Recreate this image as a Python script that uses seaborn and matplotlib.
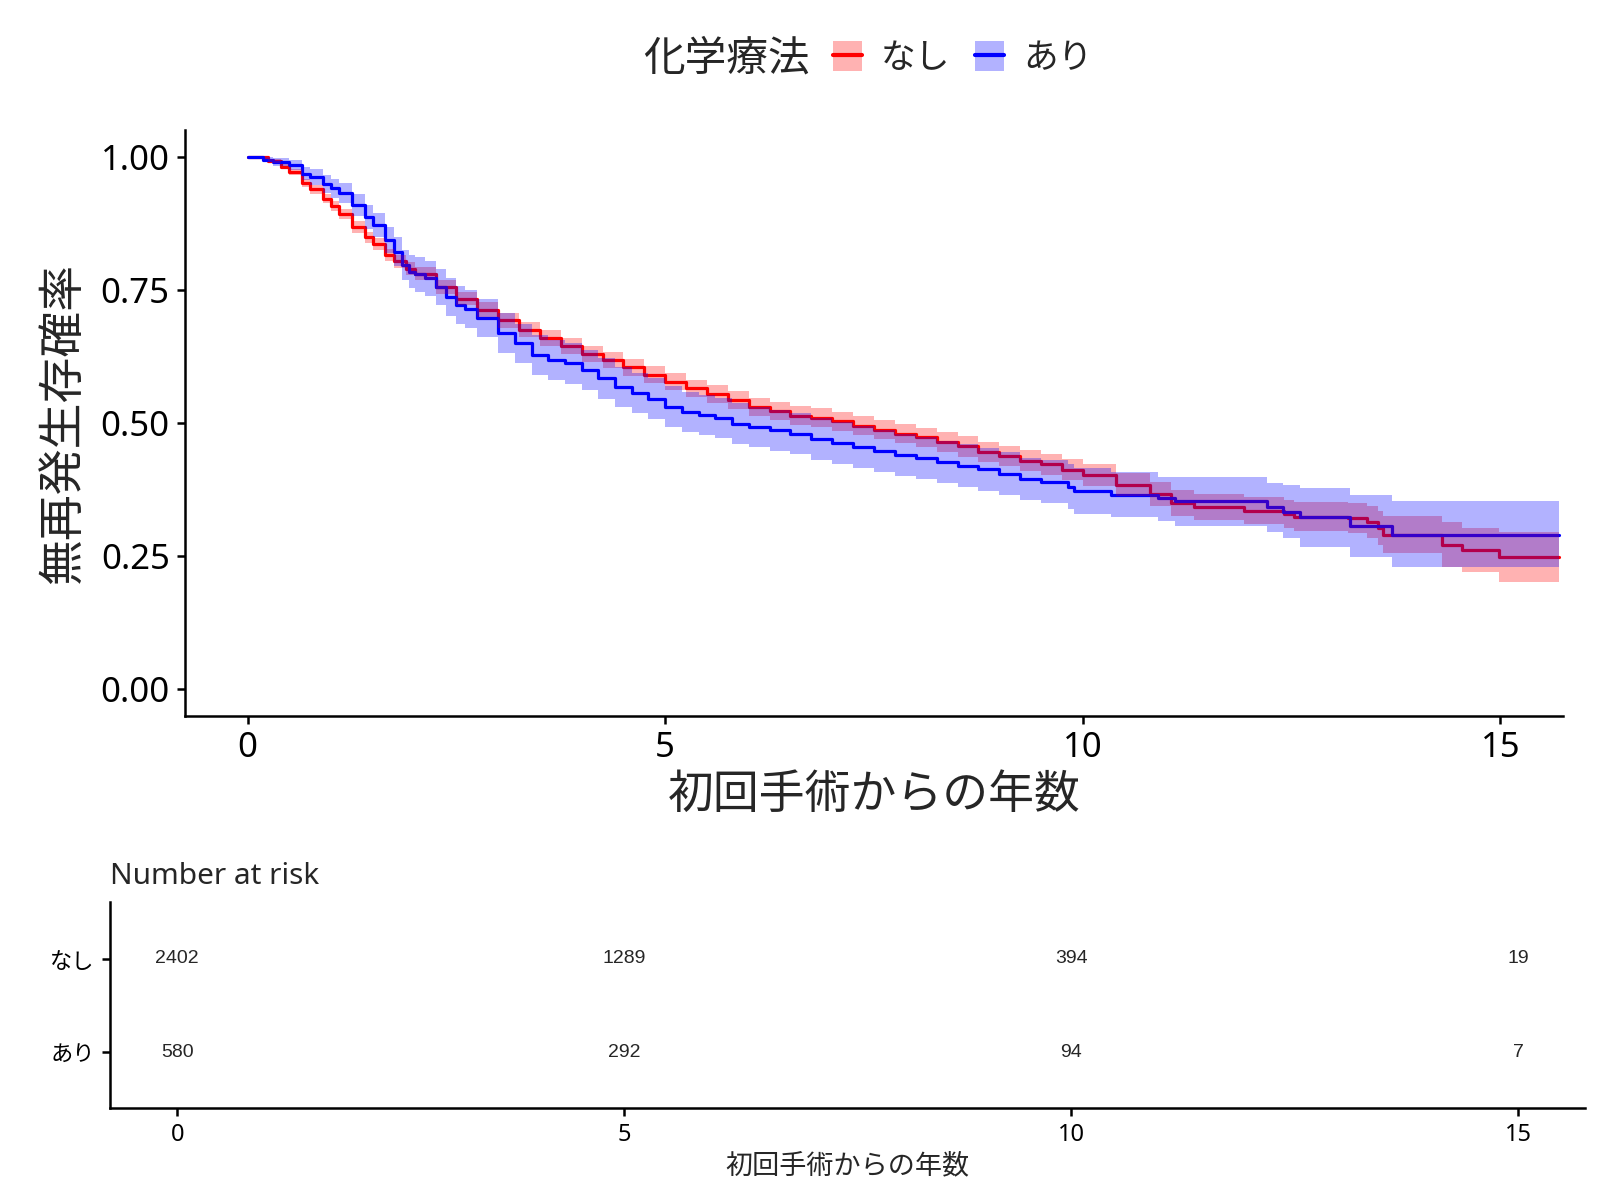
import matplotlib
matplotlib.use("Agg")
import pandas as pd
import matplotlib.pyplot as plt
import seaborn as sns
from matplotlib.patches import Patch
from matplotlib.lines import Line2D

# Kaplan-Meier curve: group "なし" (no chemotherapy)
nashi_time = [0, 0.25, 0.4, 0.5, 0.65, 0.75, 0.9, 1.0, 1.1, 1.25, 1.4, 1.5, 1.65, 1.75, 1.9, 2.0,
              2.25, 2.5, 2.75, 3.0, 3.25, 3.5, 3.75, 4.0, 4.25, 4.5, 4.75, 5.0, 5.25, 5.5, 5.75,
              6.0, 6.25, 6.5, 6.75, 7.0, 7.25, 7.5, 7.75, 8.0, 8.25, 8.5, 8.75, 9.0, 9.25, 9.5, 9.75,
              10.0, 10.4, 10.8, 11.06, 11.33, 11.93, 12.41, 12.53,
              13.18, 13.4, 13.54, 13.6, 14.3, 14.54, 14.98, 15.7]
nashi_surv = [1.0, 0.992, 0.982, 0.972, 0.951, 0.939, 0.922, 0.908, 0.893, 0.869, 0.849, 0.836, 0.816, 0.804, 0.790, 0.781,
              0.756, 0.734, 0.713, 0.693, 0.675, 0.660, 0.645, 0.630, 0.619, 0.605, 0.591, 0.578, 0.565, 0.554, 0.543,
              0.530, 0.522, 0.514, 0.510, 0.503, 0.495, 0.487, 0.480, 0.473, 0.465, 0.456, 0.446, 0.438, 0.429, 0.422, 0.412,
              0.402, 0.384, 0.367, 0.350, 0.342, 0.335, 0.329, 0.324,
              0.321, 0.314, 0.302, 0.290, 0.271, 0.261, 0.249, 0.249]
nashi_lower = [1.0, 0.988, 0.977, 0.966, 0.944, 0.931, 0.913, 0.898, 0.883, 0.858, 0.838, 0.825, 0.804, 0.792, 0.778, 0.769,
               0.743, 0.721, 0.699, 0.679, 0.661, 0.645, 0.630, 0.615, 0.604, 0.589, 0.575, 0.562, 0.549, 0.537, 0.526,
               0.513, 0.505, 0.496, 0.492, 0.485, 0.477, 0.469, 0.462, 0.455, 0.446, 0.437, 0.427, 0.419, 0.409, 0.402, 0.392,
               0.381, 0.362, 0.344, 0.326, 0.318, 0.310, 0.303, 0.297,
               0.293, 0.284, 0.270, 0.255, 0.230, 0.219, 0.202, 0.202]
nashi_upper = [1.0, 0.996, 0.987, 0.978, 0.958, 0.947, 0.931, 0.918, 0.903, 0.880, 0.860, 0.847, 0.828, 0.816, 0.802, 0.793,
               0.769, 0.747, 0.727, 0.707, 0.689, 0.675, 0.660, 0.645, 0.634, 0.621, 0.607, 0.594, 0.581, 0.571, 0.560,
               0.547, 0.539, 0.532, 0.528, 0.521, 0.513, 0.505, 0.498, 0.491, 0.484, 0.475, 0.465, 0.457, 0.449, 0.442, 0.432,
               0.423, 0.406, 0.390, 0.374, 0.366, 0.360, 0.355, 0.351,
               0.349, 0.344, 0.334, 0.325, 0.314, 0.303, 0.296, 0.296]

# group "あり" (with chemotherapy)
ari_time = [0, 0.19, 0.3, 0.5, 0.65, 0.75, 0.9, 1.0, 1.1, 1.25, 1.4, 1.5, 1.65, 1.75, 1.85, 1.93, 2.0, 2.13,
            2.25, 2.37, 2.5, 2.6, 2.75, 3.0, 3.2, 3.4, 3.6, 3.8, 4.0, 4.2, 4.4, 4.6, 4.8, 5.0, 5.2, 5.4,
            5.6, 5.8, 6.0, 6.25, 6.5, 6.75, 7.0, 7.25, 7.5, 7.75, 8.0, 8.25, 8.5, 8.75, 9.0, 9.25, 9.5,
            9.82, 9.9, 10.34, 10.9, 11.1, 12.2, 12.4, 12.6, 13.2, 13.7, 15.7]
ari_surv = [1.0, 0.995, 0.991, 0.985, 0.969, 0.963, 0.950, 0.941, 0.932, 0.910, 0.887, 0.872, 0.844, 0.822, 0.797, 0.784, 0.780, 0.772,
            0.756, 0.737, 0.722, 0.714, 0.698, 0.669, 0.650, 0.628, 0.618, 0.612, 0.600, 0.584, 0.568, 0.556, 0.546, 0.531, 0.521, 0.515,
            0.509, 0.499, 0.493, 0.486, 0.480, 0.470, 0.462, 0.455, 0.447, 0.440, 0.434, 0.427, 0.420, 0.413, 0.405, 0.395, 0.390,
            0.380, 0.372, 0.365, 0.359, 0.353, 0.343, 0.333, 0.323, 0.306, 0.290, 0.290]
ari_lower = [1.0, 0.990, 0.984, 0.976, 0.956, 0.948, 0.933, 0.923, 0.913, 0.890, 0.865, 0.849, 0.819, 0.795, 0.768, 0.753, 0.747, 0.739,
             0.722, 0.702, 0.687, 0.678, 0.662, 0.632, 0.613, 0.590, 0.580, 0.574, 0.562, 0.546, 0.530, 0.518, 0.508, 0.493, 0.483, 0.477,
             0.471, 0.461, 0.455, 0.448, 0.441, 0.431, 0.423, 0.416, 0.408, 0.401, 0.394, 0.387, 0.380, 0.373, 0.365, 0.355, 0.349,
             0.338, 0.329, 0.324, 0.315, 0.306, 0.296, 0.283, 0.267, 0.249, 0.229, 0.229]
ari_upper = [1.0, 1.0, 0.998, 0.994, 0.982, 0.978, 0.967, 0.959, 0.951, 0.930, 0.909, 0.895, 0.869, 0.849, 0.826, 0.815, 0.813, 0.805,
             0.790, 0.772, 0.757, 0.750, 0.734, 0.706, 0.687, 0.666, 0.656, 0.650, 0.638, 0.622, 0.606, 0.594, 0.584, 0.569, 0.559, 0.553,
             0.547, 0.537, 0.531, 0.524, 0.519, 0.509, 0.501, 0.494, 0.486, 0.479, 0.474, 0.467, 0.460, 0.453, 0.445, 0.435, 0.431,
             0.422, 0.415, 0.408, 0.398, 0.398, 0.388, 0.384, 0.377, 0.365, 0.354, 0.354]

# number at risk table
risk_times = [0, 5, 10, 15]
nashi_risk = [2402, 1289, 394, 19]
ari_risk = [580, 292, 94, 7]

groups = ['なし', 'あり']
colors = {'なし': '#FF0000', 'あり': '#0000FF'}

sns.set_theme(style="ticks")
plt.rcParams['font.family'] = ['Noto Sans CJK JP', 'DejaVu Sans']
latin = ['Noto Sans', 'Noto Sans CJK JP']

df = pd.concat([
    pd.DataFrame({'time': nashi_time, 'surv': nashi_surv, 'group': 'なし'}),
    pd.DataFrame({'time': ari_time, 'surv': ari_surv, 'group': 'あり'}),
])

fig = plt.figure(figsize=(16, 12), dpi=100)

# Survival curves
ax = fig.add_axes([0.1156, 0.4037, 0.8613, 0.4876])
sns.lineplot(data=df, x='time', y='surv', hue='group', hue_order=groups, palette=colors,
             drawstyle='steps-post', estimator=None, sort=False, lw=2.3, legend=False, ax=ax, zorder=2)
ax.fill_between(nashi_time, nashi_lower, nashi_upper, step='post', color=colors['なし'],
                alpha=0.3, lw=0, zorder=3)
ax.fill_between(ari_time, ari_lower, ari_upper, step='post', color=colors['あり'],
                alpha=0.3, lw=0, zorder=3)
ax.set_xlim(-0.75, 15.75)
ax.set_ylim(-0.05, 1.05)
ax.set_xticks([0, 5, 10, 15])
ax.set_yticks([0, 0.25, 0.5, 0.75, 1.0])
ax.set_yticklabels(['0.00', '0.25', '0.50', '0.75', '1.00'])
ax.set_xlabel('初回手術からの年数', fontsize=33, labelpad=4)
ax.set_ylabel('無再発生存確率', fontsize=33, labelpad=10)
ax.tick_params(axis='both', labelsize=25, length=6, width=1.8, color='black',
               labelcolor='black', pad=5)
for lab in ax.get_xticklabels() + ax.get_yticklabels():
    lab.set_family(latin)
sns.despine(ax=ax)
for side in ['left', 'bottom']:
    ax.spines[side].set_linewidth(1.8)
    ax.spines[side].set_color('black')

# Legend across the top
fig.text(0.402, 0.951, '化学療法', fontsize=30, va='center', ha='left')
handles = [(Patch(facecolor=colors[g], alpha=0.3, edgecolor='none'),
            Line2D([], [], color=colors[g], lw=3)) for g in groups]
fig.legend(handles, groups, loc='center left', bbox_to_anchor=(0.5206, 0.951), ncol=2,
           frameon=False, fontsize=25, handlelength=0.84, handleheight=0.95,
           handletextpad=0.55, columnspacing=0.7, borderpad=0, borderaxespad=0)

# Number at risk table
tab = fig.add_axes([0.0688, 0.0767, 0.9219, 0.1717])
for t, n in zip(risk_times, nashi_risk):
    tab.text(t, 1, str(n), ha='center', va='center', fontsize=14,
             family=['Liberation Sans', 'DejaVu Sans'])
for t, n in zip(risk_times, ari_risk):
    tab.text(t, 0, str(n), ha='center', va='center', fontsize=14,
             family=['Liberation Sans', 'DejaVu Sans'])
tab.set_xlim(-0.75, 15.75)
tab.set_ylim(-0.6, 1.61)
tab.set_xticks(risk_times)
tab.set_yticks([1, 0])
tab.set_yticklabels(groups)
tab.set_xlabel('初回手術からの年数', fontsize=19.5, labelpad=4)
tab.set_title('Number at risk', loc='left', fontsize=21.5, pad=13, family=latin)
tab.tick_params(axis='y', labelsize=16, length=6, width=1.8, color='black',
                labelcolor='black', pad=5)
tab.tick_params(axis='x', labelsize=17, length=6, width=1.8, color='black',
                labelcolor='black', pad=5)
for lab in tab.get_xticklabels():
    lab.set_family(latin)
sns.despine(ax=tab)
for side in ['left', 'bottom']:
    tab.spines[side].set_linewidth(1.8)
    tab.spines[side].set_color('black')

fig.savefig('out.png', dpi=100)
